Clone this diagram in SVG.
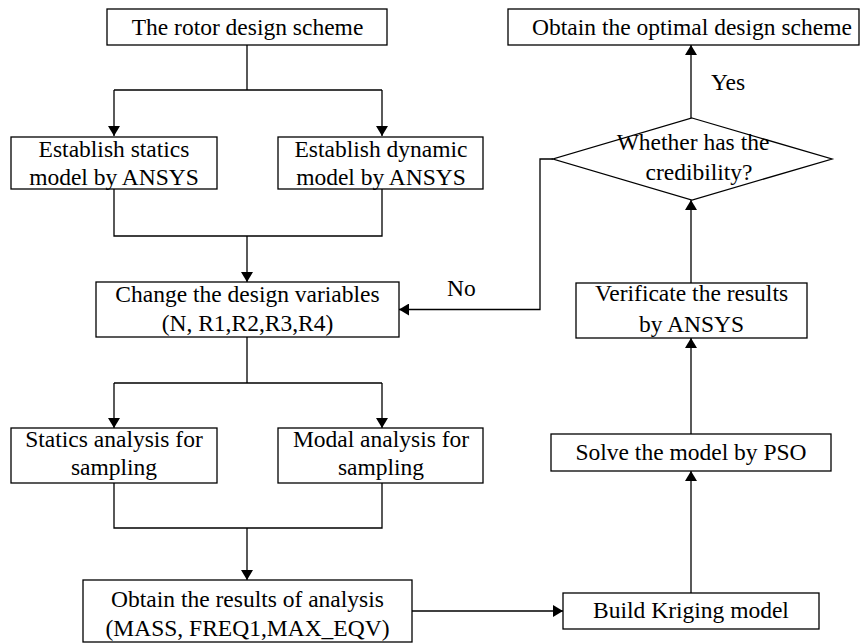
<svg xmlns="http://www.w3.org/2000/svg" width="862" height="644" viewBox="0 0 862 644">
<style>
.box{fill:#fff;stroke:#000;stroke-width:1.3}
.ln{fill:none;stroke:#000;stroke-width:1.3}
.t{font-family:"Liberation Serif","Times New Roman",serif;font-size:23.5px;fill:#000;text-anchor:middle}
.lbl{font-family:"Liberation Serif","Times New Roman",serif;font-size:23.5px;fill:#000}
</style>
<defs>
<marker id="ah" markerUnits="userSpaceOnUse" markerWidth="11" markerHeight="12" refX="10" refY="6" orient="auto">
<path d="M0,0 L10,6 L0,12 z" fill="#000"/>
</marker>
</defs>
<rect width="862" height="644" fill="#fff"/>
<g id="connectors">
<path class="ln" d="M247,45 V90 M114,90 H382"/>
<path class="ln" d="M114,90 V136" marker-end="url(#ah)"/>
<path class="ln" d="M382,90 V136" marker-end="url(#ah)"/>
<path class="ln" d="M114,189 V236 H382 V189"/>
<path class="ln" d="M247,236 V282" marker-end="url(#ah)"/>
<path class="ln" d="M247,337 V383 M114,383 H382"/>
<path class="ln" d="M114,383 V428" marker-end="url(#ah)"/>
<path class="ln" d="M382,383 V428" marker-end="url(#ah)"/>
<path class="ln" d="M114,483 V528 H382 V483"/>
<path class="ln" d="M247,528 V580" marker-end="url(#ah)"/>
<path class="ln" d="M412,611 H563" marker-end="url(#ah)"/>
<path class="ln" d="M691,593 V471" marker-end="url(#ah)"/>
<path class="ln" d="M691,434 V338" marker-end="url(#ah)"/>
<path class="ln" d="M691,283 V200" marker-end="url(#ah)"/>
<path class="ln" d="M691,118 V45" marker-end="url(#ah)"/>
<path class="ln" d="M553,159 H540 V309.5 H399" marker-end="url(#ah)"/>
<text class="lbl" x="711" y="90">Yes</text>
<text class="lbl" x="447" y="296">No</text>
</g>
<g id="n1"><rect class="box" x="107" y="9" width="280" height="36"/><text class="t" x="247.5" y="35">The rotor design scheme</text></g>
<g id="n2"><rect class="box" x="11" y="137" width="206" height="52"/><text class="t" x="114" y="157">Establish statics</text><text class="t" x="114" y="185">model by ANSYS</text></g>
<g id="n3"><rect class="box" x="278" y="137" width="205" height="52"/><text class="t" x="381" y="157">Establish dynamic</text><text class="t" x="381" y="185">model by ANSYS</text></g>
<g id="n4"><rect class="box" x="96" y="282" width="303" height="55"/><text class="t" x="247.5" y="302">Change the design variables</text><text class="t" x="247.5" y="331">(N, R1,R2,R3,R4)</text></g>
<g id="n5"><rect class="box" x="11" y="428" width="206" height="55"/><text class="t" x="114" y="447">Statics analysis for</text><text class="t" x="114" y="475">sampling</text></g>
<g id="n6"><rect class="box" x="278" y="428" width="205" height="55"/><text class="t" x="381" y="447">Modal analysis for</text><text class="t" x="381" y="475">sampling</text></g>
<g id="n7"><rect class="box" x="83" y="580" width="329" height="62"/><text class="t" x="247.5" y="607">Obtain the results of analysis</text><text class="t" x="247.5" y="636">(MASS, FREQ1,MAX_EQV)</text></g>
<g id="n8"><rect class="box" x="563" y="593" width="256" height="36"/><text class="t" x="691" y="618">Build Kriging model</text></g>
<g id="n9"><rect class="box" x="551" y="434" width="280" height="37"/><text class="t" x="691" y="460">Solve the model by PSO</text></g>
<g id="n10"><rect class="box" x="576" y="283" width="231" height="55"/><text class="t" x="691.5" y="301">Verificate the results</text><text class="t" x="691.5" y="332">by ANSYS</text></g>
<g id="n11"><polygon class="box" points="692,118 832,159 692,200 553,159"/><text class="t" x="693" y="150">Whether has the</text><text class="t" x="699" y="180">credibility?</text></g>
<g id="n12"><rect class="box" x="508" y="9" width="351" height="36"/><text class="t" x="692" y="35">Obtain the optimal design scheme</text></g>
</svg>
